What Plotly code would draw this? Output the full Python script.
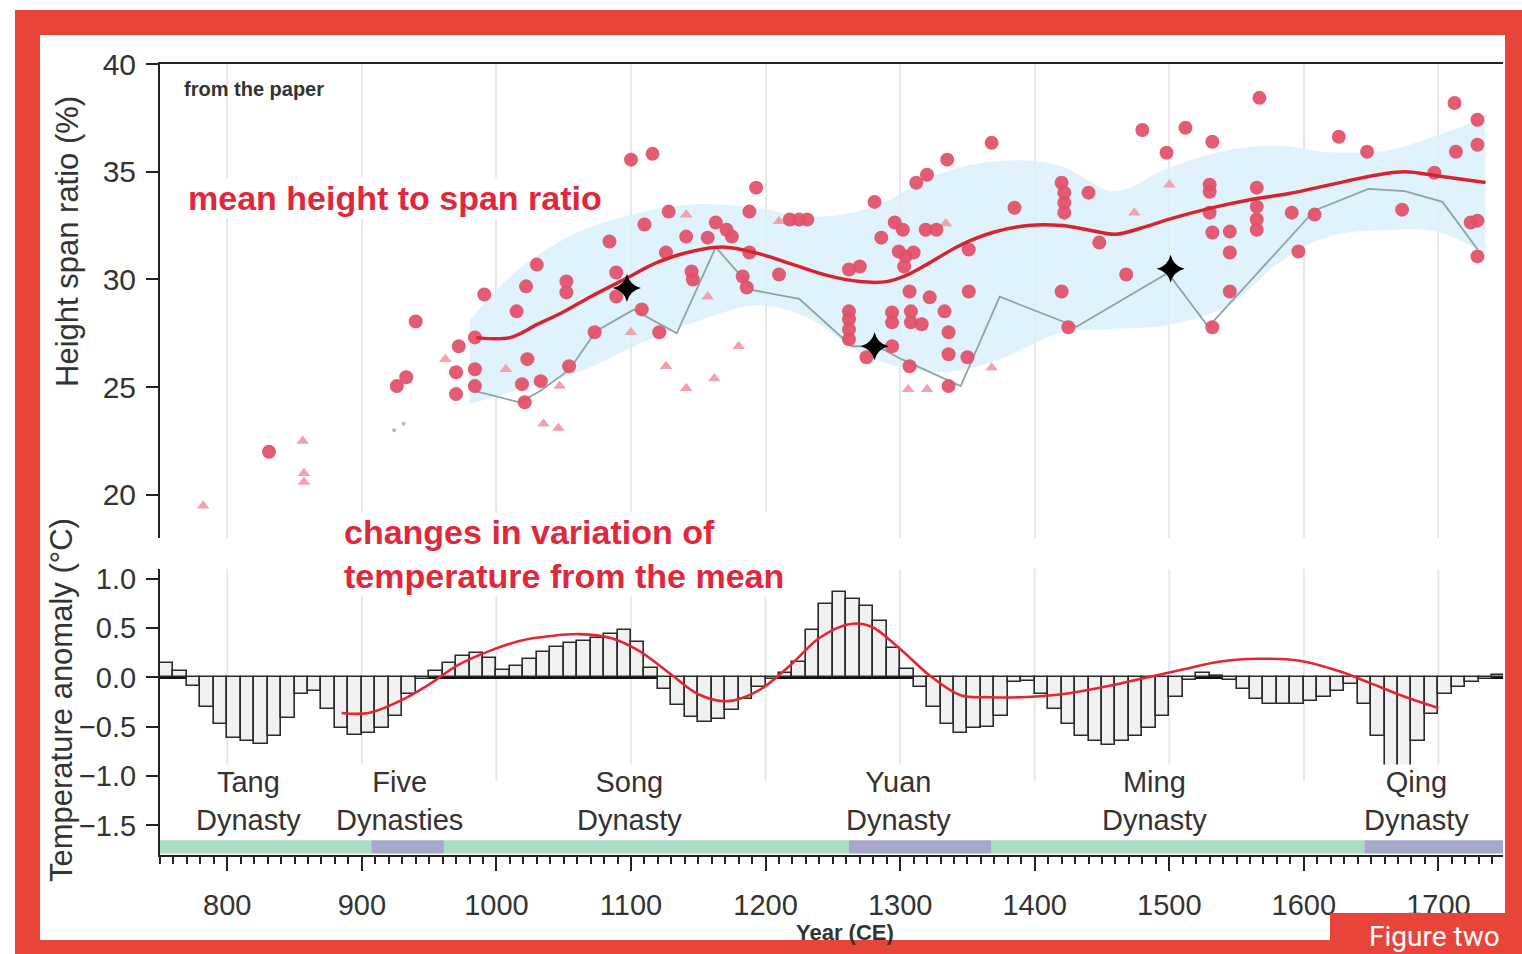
import plotly.graph_objects as go

W, H = 1522, 954

# ---------------- data ----------------
year_ticks = [800, 900, 1000, 1100, 1200, 1300, 1400, 1500, 1600, 1700]

# decadal temperature anomaly bars (start year of each decade)
temp_years = list(range(750, 1750, 10))
temp_anom = [
    0.15, 0.07, -0.09, -0.30, -0.47, -0.61, -0.64, -0.67, -0.59, -0.41,
    -0.17, -0.14, -0.32, -0.51, -0.58, -0.56, -0.51, -0.39, -0.17, -0.02,
    0.07, 0.15, 0.22, 0.25, 0.20, 0.08, 0.12, 0.19, 0.26, 0.31,
    0.35, 0.37, 0.40, 0.44, 0.48, 0.36, 0.10, -0.12, -0.28, -0.40,
    -0.45, -0.42, -0.33, -0.22, -0.10, -0.02, 0.05, 0.16, 0.48, 0.75,
    0.87, 0.80, 0.72, 0.57, 0.30, 0.09, -0.10, -0.30, -0.47, -0.56,
    -0.51, -0.50, -0.39, -0.05, -0.04, -0.17, -0.32, -0.47, -0.59, -0.64,
    -0.68, -0.64, -0.59, -0.51, -0.39, -0.20, -0.03, 0.05, 0.02, -0.03,
    -0.12, -0.22, -0.27, -0.27, -0.27, -0.24, -0.20, -0.14, -0.07, -0.27,
    -0.59, -0.92, -0.92, -0.64, -0.37, -0.17, -0.10, -0.05, -0.02, 0.03,
]

# smoothed temperature curve
tcurve_year = [885, 905, 928, 950, 972, 995, 1017, 1040, 1062, 1085, 1106, 1128, 1150, 1172,
               1195, 1218, 1240, 1262, 1278, 1300, 1322, 1345, 1366, 1390, 1420, 1450, 1480,
               1510, 1537, 1567, 1597, 1627, 1648, 1672, 1700]
tcurve_val = [-0.36, -0.36, -0.24, -0.07, 0.13, 0.27, 0.37, 0.42, 0.44, 0.40, 0.27, 0.05, -0.17, -0.24,
              -0.13, 0.12, 0.40, 0.54, 0.52, 0.29, 0.02, -0.18, -0.20, -0.20, -0.17, -0.10, -0.01,
              0.08, 0.16, 0.19, 0.17, 0.06, -0.05, -0.18, -0.31]

# height-to-span ratio: individual bridges (circles)
circ_year = [831, 926, 933, 940, 972, 984, 970, 984, 970, 984, 991, 1015, 1022, 1030, 1023, 1019,
             1021, 1033, 1054, 1052, 1052, 1073, 1084, 1089, 1089, 1100, 1116, 1110, 1108, 1121,
             1126, 1128, 1141, 1145, 1146, 1157, 1163, 1171, 1175, 1183, 1186, 1188, 1193, 1188,
             1210, 1218, 1225, 1231, 1281, 1286, 1296, 1302, 1319, 1327, 1312, 1320, 1335, 1368,
             1385, 1299, 1304, 1310, 1303, 1307, 1322, 1333, 1351, 1351, 1336, 1336, 1350, 1336,
             1307, 1294, 1294, 1294, 1308, 1308, 1316, 1262, 1262, 1262, 1262, 1275, 1262, 1270,
             1420, 1422, 1422, 1422, 1440, 1448, 1480, 1498, 1512, 1532, 1530, 1530, 1530, 1532,
             1545, 1545, 1565, 1565, 1565, 1565, 1567, 1591, 1608, 1596, 1626, 1647, 1673, 1697,
             1712, 1729, 1713, 1729, 1724, 1729, 1729, 1420, 1425, 1468, 1532, 1545]
circ_ratio = [22.0, 25.05, 25.46, 28.05, 26.9, 27.31, 25.69, 25.83, 24.68, 25.05, 29.3, 28.52, 29.68,
              30.69, 26.3, 25.14, 24.3, 25.28, 25.97, 29.91, 29.4, 27.55, 31.76, 30.32, 29.21, 35.56,
              35.83, 32.55, 28.61, 27.55, 31.25, 33.15, 31.99, 30.37, 30.0, 31.94, 32.64, 32.31, 31.99,
              30.14, 29.63, 33.15, 34.26, 31.25, 30.23, 32.78, 32.78, 32.78, 33.6, 31.94, 32.64, 32.31,
              32.31, 32.31, 34.49, 34.86, 35.56, 36.34, 33.33, 31.3, 31.06, 31.25, 30.6, 29.44, 29.17,
              28.52, 29.44, 31.39, 27.55, 26.53, 26.39, 25.05, 25.97, 26.9, 28.47, 28.01, 28.52, 28.01,
              27.92, 28.52, 28.15, 27.68, 27.22, 26.39, 30.46, 30.6, 34.49, 34.03, 33.56, 33.1, 34.03,
              31.71, 36.94, 35.88, 37.04, 36.39, 34.4, 34.07, 33.1, 32.18, 32.22, 31.25, 34.26, 33.38,
              32.78, 32.31, 38.43, 33.1, 33.01, 31.3, 36.62, 35.93, 33.24, 34.95, 38.19, 37.41, 35.93,
              36.25, 32.64, 32.73, 31.07, 29.44, 27.78, 30.23, 27.78, 29.44]

# other bridges (triangles)
tri_year = [782, 856, 857, 857, 962, 1007, 1035, 1046, 1047, 1100, 1126, 1141, 1162, 1141, 1157,
            1180, 1210, 1306, 1320, 1368, 1334, 1474, 1500]
tri_ratio = [19.5, 22.5, 21.0, 20.6, 26.3, 25.83, 23.3, 23.1, 25.05, 27.55, 25.97, 24.95, 25.4, 33.0,
             29.2, 26.9, 32.7, 24.9, 24.9, 25.9, 32.6, 33.1, 34.4]

# faint minor points
dot_year = [924, 931]
dot_ratio = [23.0, 23.3]

# uncertainty band around the mean
band_year = [980, 1017, 1061, 1106, 1151, 1195, 1232, 1277, 1329, 1374, 1418, 1459, 1500, 1544,
             1582, 1619, 1663, 1700, 1735]
band_high = [28.1, 30.5, 32.2, 33.1, 33.5, 33.3, 32.9, 33.3, 34.9, 35.5, 35.3, 34.1, 35.2, 36.0,
             36.2, 35.9, 36.0, 36.7, 37.5]
band_low = [24.2, 24.9, 25.7, 27.0, 28.1, 28.8, 28.2, 26.4, 25.7, 26.3, 27.5, 27.7, 27.9, 28.8,
            30.8, 32.0, 32.3, 32.2, 31.2]

# mean height-to-span ratio
mean_year = [985, 1010, 1030, 1050, 1070, 1095, 1120, 1145, 1170, 1195, 1220, 1245, 1270, 1290,
             1305, 1320, 1345, 1370, 1395, 1420, 1440, 1460, 1480, 1500, 1530, 1560, 1590, 1620,
             1650, 1675, 1700, 1735]
mean_ratio = [27.3, 27.3, 27.9, 28.5, 29.2, 30.0, 30.8, 31.3, 31.5, 31.2, 30.7, 30.2, 29.9, 29.9,
              30.2, 30.7, 31.6, 32.2, 32.5, 32.5, 32.3, 32.1, 32.4, 32.8, 33.3, 33.7, 34.0, 34.4,
              34.8, 35.0, 34.8, 34.5]

# grey line (lower series)
gray_year = [985, 1017, 1032, 1054, 1074, 1102, 1134, 1163, 1191, 1225, 1264, 1283, 1301, 1345,
             1374, 1431, 1499, 1529, 1608, 1648, 1675, 1703, 1729]
gray_ratio = [24.8, 24.3, 24.8, 25.8, 27.6, 28.6, 27.5, 31.5, 29.5, 29.1, 26.9, 26.9, 26.3, 25.05,
              29.2, 27.8, 30.3, 27.8, 33.2, 34.2, 34.1, 33.6, 31.4]

# highlighted bridges (black stars)
star_year = [1097, 1281, 1501]
star_ratio = [29.6, 26.9, 30.5]

# dynasty labels and timeline band
dyn_labels = ["Tang<br>Dynasty", "Five<br>Dynasties", "Song<br>Dynasty", "Yuan<br>Dynasty",
              "Ming<br>Dynasty", "Qing<br>Dynasty"]
dyn_label_year = [816, 928, 1099, 1299, 1489, 1684]
era_start = [750, 907, 961, 1262, 1368, 1645]
era_end = [907, 961, 1262, 1368, 1645, 1748]
era_kind = ["g", "p", "g", "p", "g", "p"]

# ---------------- styling ----------------
RED_FRAME = "#e8443a"
TXT = "#333333"
FONT = "Liberation Sans, Arial, sans-serif"
ANN_RED = "#e0283c"
XR = [750, 1748]


def px(x):
    return x / W


def py(y):
    return 1 - y / H


fig = go.Figure()

# --- top panel ---
fig.add_trace(go.Scatter(x=band_year, y=band_low, mode="lines", line=dict(width=0, shape="spline"),
                         hoverinfo="skip", showlegend=False, xaxis="x", yaxis="y"))
fig.add_trace(go.Scatter(x=band_year, y=band_high, mode="lines", line=dict(width=0, shape="spline"),
                         fill="tonexty", fillcolor="rgba(218,240,250,0.85)", hoverinfo="skip",
                         showlegend=False, xaxis="x", yaxis="y"))
fig.add_trace(go.Scatter(x=gray_year, y=gray_ratio, mode="lines", line=dict(color="#8da5a3", width=1.8),
                         showlegend=False, xaxis="x", yaxis="y"))
fig.add_trace(go.Scatter(x=dot_year, y=dot_ratio, mode="markers", marker=dict(color="#b8b8b8", size=4),
                         showlegend=False, xaxis="x", yaxis="y"))
fig.add_trace(go.Scatter(x=tri_year, y=tri_ratio, mode="markers",
                         marker=dict(symbol="triangle-up", color="#f0a3ad", size=11),
                         showlegend=False, xaxis="x", yaxis="y"))
fig.add_trace(go.Scatter(x=circ_year, y=circ_ratio, mode="markers",
                         marker=dict(symbol="circle", color="rgba(226,78,104,0.92)", size=14),
                         showlegend=False, xaxis="x", yaxis="y"))
fig.add_trace(go.Scatter(x=mean_year, y=mean_ratio, mode="lines",
                         line=dict(color="#d8232e", width=3.5, shape="spline"),
                         showlegend=False, xaxis="x", yaxis="y"))
fig.add_trace(go.Scatter(x=star_year, y=star_ratio, mode="markers",
                         marker=dict(symbol="star-diamond", color="black", size=20),
                         showlegend=False, xaxis="x", yaxis="y"))

# --- bottom panel ---
fig.add_trace(go.Bar(x=temp_years, y=temp_anom, width=10, offset=0,
                     marker=dict(color="#f1f1f1", line=dict(color="#2a2a2a", width=1.6)),
                     showlegend=False, xaxis="x2", yaxis="y2"))
fig.add_trace(go.Scatter(x=tcurve_year, y=tcurve_val, mode="lines",
                         line=dict(color="#e3262f", width=2.6, shape="spline"),
                         showlegend=False, xaxis="x2", yaxis="y2"))

shapes = []
# red frame
shapes.append(dict(type="rect", xref="paper", yref="paper", x0=px(15), x1=1, y0=0, y1=py(10),
                   fillcolor=RED_FRAME, line=dict(width=0), layer="below"))
shapes.append(dict(type="rect", xref="paper", yref="paper", x0=px(40), x1=px(1505), y0=py(940), y1=py(35),
                   fillcolor="white", line=dict(width=0), layer="below"))
# bottom-panel gridlines
for t in year_ticks:
    shapes.append(dict(type="line", xref="x2", yref="y2", x0=t, x1=t, y0=-1.05, y1=1.1,
                       line=dict(color="#e8e8e8", width=2), layer="below"))
# dynasty timeline band
for s, e, k in zip(era_start, era_end, era_kind):
    shapes.append(dict(type="rect", xref="x2", yref="y2", x0=s, x1=e, y0=-1.785, y1=-1.65,
                       fillcolor="#a9ddc6" if k == "g" else "#a7a8cc", line=dict(width=0), layer="above"))
# "Figure two" tab
shapes.append(dict(type="rect", xref="paper", yref="paper", x0=px(1330), x1=1, y0=0, y1=py(913),
                   fillcolor=RED_FRAME, line=dict(width=0), layer="above"))

annotations = []
annotations.append(dict(text="<b>from the paper</b>", x=px(182), y=py(89), xref="paper", yref="paper",
                        xanchor="left", yanchor="middle", showarrow=False,
                        font=dict(family=FONT, size=20, color=TXT)))
annotations.append(dict(text="<b>mean height to span ratio</b>", x=px(186), y=py(198), xref="paper",
                        yref="paper", xanchor="left", yanchor="middle", showarrow=False,
                        bgcolor="white", font=dict(family=FONT, size=34, color=ANN_RED)))
annotations.append(dict(text="<b>changes in variation of<br>temperature from the mean</b>", x=px(342),
                        y=py(554), xref="paper", yref="paper", xanchor="left", yanchor="middle",
                        align="left", showarrow=False, bgcolor="white",
                        font=dict(family=FONT, size=34, color=ANN_RED)))
for lab, yr in zip(dyn_labels, dyn_label_year):
    annotations.append(dict(text=lab, x=yr, y=py(801), xref="x2", yref="paper", xanchor="center",
                            yanchor="middle", showarrow=False, bgcolor="white",
                            font=dict(family=FONT, size=29, color=TXT)))
annotations.append(dict(text="<b>Year (CE)</b>", x=px(845), y=py(932), xref="paper", yref="paper",
                        xanchor="center", yanchor="middle", showarrow=False,
                        font=dict(family=FONT, size=22, color=TXT)))
annotations.append(dict(text="Height span ratio (%)", x=px(68), y=py(242), xref="paper", yref="paper",
                        xanchor="center", yanchor="middle", textangle=-90, showarrow=False,
                        font=dict(family=FONT, size=31, color=TXT)))
annotations.append(dict(text="Temperature anomaly (°C)", x=px(61), y=py(700), xref="paper", yref="paper",
                        xanchor="center", yanchor="middle", textangle=-90, showarrow=False,
                        font=dict(family=FONT, size=31, color=TXT)))
annotations.append(dict(text="Figure two", x=px(1434), y=py(936), xref="paper", yref="paper",
                        xanchor="center", yanchor="middle", showarrow=False,
                        font=dict(family="Roboto, Liberation Sans, sans-serif", size=28, color="white")))

fig.update_layout(
    width=W, height=H, autosize=False,
    margin=dict(l=0, r=0, t=0, b=0, pad=0, autoexpand=False),
    paper_bgcolor="white", plot_bgcolor="rgba(0,0,0,0)",
    font=dict(family=FONT, color=TXT),
    bargap=0,
    shapes=shapes, annotations=annotations,
    xaxis=dict(domain=[px(160), px(1503)], range=XR, anchor="y", side="top", automargin=False,
               showline=True, linecolor="#222", linewidth=2, ticks="", showticklabels=False,
               tickvals=year_ticks, showgrid=True, gridcolor="#e8e8e8", gridwidth=2, zeroline=False),
    yaxis=dict(domain=[py(538), py(64)], range=[18, 40], anchor="x", automargin=False,
               tickvals=[20, 25, 30, 35, 40], ticks="outside", ticklen=12, tickwidth=2, tickcolor="#222",
               showline=True, linecolor="#222", linewidth=2, showgrid=False, zeroline=False,
               ticklabelstandoff=4, tickfont=dict(family=FONT, size=30, color=TXT)),
    xaxis2=dict(domain=[px(160), px(1503)], range=XR, anchor="y2", automargin=False,
                showline=True, linecolor="#222", linewidth=2, ticks="outside", ticklen=14,
                tickwidth=2, tickcolor="#222", tickvals=year_ticks, showgrid=False, zeroline=False,
                ticklabelstandoff=9, tickfont=dict(family=FONT, size=29, color=TXT),
                minor=dict(tick0=750, dtick=10, ticks="outside", ticklen=7, tickwidth=1.5,
                           tickcolor="#222", showgrid=False)),
    yaxis2=dict(domain=[py(855), py(569)], range=[-1.8, 1.1], anchor="x2", automargin=False,
                tickvals=[-1.5, -1.0, -0.5, 0.0, 0.5, 1.0], tickformat=".1f", ticks="outside",
                ticklen=12, tickwidth=2, tickcolor="#222", showline=True, linecolor="#222", linewidth=2,
                showgrid=False, zeroline=True, zerolinecolor="#111", zerolinewidth=2.5,
                ticklabelstandoff=4, tickfont=dict(family=FONT, size=29, color=TXT)),
)

fig.write_html(
    "out.html",
    config={"displayModeBar": False},
    post_script=(
        "document.documentElement.style.margin='0px';document.body.style.margin='0px';"
        "document.body.style.overflow='hidden';"
        "var gd=document.getElementById('{plot_id}');gd.style.position='fixed';"
        "gd.style.top='0px';gd.style.left='0px';"
    ),
)
